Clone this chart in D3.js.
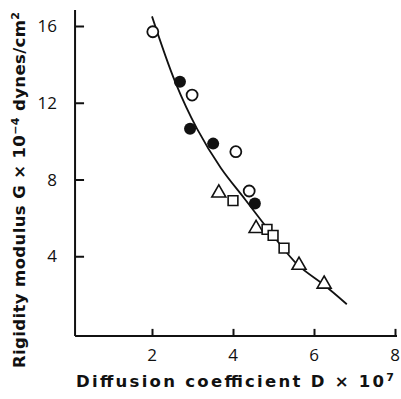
<!DOCTYPE html>
<html>
<head>
<meta charset="utf-8">
<script src="https://cdn.jsdelivr.net/npm/d3@7"></script>
<style>
  body { margin: 0; background: #fff; }
  text { font-family: "Open Sans", sans-serif; fill: #111; }
  .title { font-family: "DejaVu Sans", sans-serif; font-weight: bold; }
</style>
</head>
<body>
<svg id="chart" width="401" height="399"></svg>
<script>
// data
const openCircleD = [2.02, 2.99, 4.07, 4.40];
const openCircleG = [15.7, 12.4, 9.45, 7.4];
const filledCircleD = [2.69, 2.94, 3.51, 4.54];
const filledCircleG = [13.1, 10.65, 9.87, 6.75];
const triangleD = [3.65, 4.57, 5.63, 6.25];
const triangleG = [7.3, 5.45, 3.53, 2.55];
const squareD = [4.0, 4.84, 4.99, 5.26];
const squareG = [6.9, 5.4, 5.09, 4.42];
const curveD = [2.0, 2.57, 3.11, 3.7, 4.3, 5.0, 5.6, 6.25, 6.81];
const curveG = [16.5, 13.1, 10.65, 8.6, 6.96, 5.05, 3.55, 2.5, 1.5];
const xTicks = [2, 4, 6, 8];
const yTicks = [4, 8, 12, 16];

const svg = d3.select('#chart');

const x = d3.scaleLinear().domain([0, 8]).range([71, 395]);
const y = d3.scaleLinear().domain([0, 16]).range([333, 26]);

const zip = (a, b) => a.map((d, i) => ({ d: d, g: b[i] }));

// axes
const yAxis = svg.append('g')
    .attr('transform', `translate(${x(0.1)},0)`)
    .call(d3.axisRight(y).tickValues(yTicks).tickSize(9).tickFormat(''));
yAxis.select('.domain').attr('d', `M0,${y(-0.15)}V10`);
const xAxis = svg.append('g')
    .attr('transform', `translate(0,${y(-0.15)})`)
    .call(d3.axisTop(x).tickValues(xTicks).tickSize(7).tickFormat(''));
xAxis.select('.domain').attr('d', `M${x(0.1)},0H397`);
svg.selectAll('.domain, .tick line')
    .attr('stroke', '#111')
    .attr('stroke-width', 2);

// tick labels
svg.selectAll('.ylab').data(yTicks).join('text')
    .attr('x', 57)
    .attr('y', d => y(d) + 6)
    .attr('text-anchor', 'end')
    .attr('font-size', '17px')
    .text(d => d);
svg.selectAll('.xlab').data(xTicks).join('text')
    .attr('x', d => x(d))
    .attr('y', 361)
    .attr('text-anchor', 'middle')
    .attr('font-size', '17px')
    .text(d => d);

// axis titles
svg.append('text')
    .attr('class', 'title')
    .attr('x', 76)
    .attr('y', 387)
    .attr('textLength', 318)
    .attr('lengthAdjust', 'spacing')
    .attr('font-size', '16.5px')
    .html('Diffusion coefficient D &#215; 10<tspan dy="-6" font-size="11px">7</tspan>');
svg.append('text')
    .attr('class', 'title')
    .attr('transform', 'translate(25,368) rotate(-90)')
    .attr('textLength', 356)
    .attr('lengthAdjust', 'spacing')
    .attr('font-size', '16.5px')
    .html('Rigidity modulus G &#215; 10<tspan dy="-6" font-size="11px">&#8722;4</tspan><tspan dy="6"> dynes/cm</tspan><tspan dy="-6" font-size="11px">2</tspan>');

// fitted curve
const line = d3.line()
    .x(p => x(p.d))
    .y(p => y(p.g))
    .curve(d3.curveCatmullRom);
svg.append('path')
    .datum(zip(curveD, curveG))
    .attr('d', line)
    .attr('fill', 'none')
    .attr('stroke', '#111')
    .attr('stroke-width', 1.8);

// markers
svg.selectAll('.open').data(zip(openCircleD, openCircleG)).join('circle')
    .attr('cx', p => x(p.d)).attr('cy', p => y(p.g)).attr('r', 5.5)
    .attr('fill', '#fff').attr('stroke', '#111').attr('stroke-width', 1.8);
svg.selectAll('.filled').data(zip(filledCircleD, filledCircleG)).join('circle')
    .attr('cx', p => x(p.d)).attr('cy', p => y(p.g)).attr('r', 6)
    .attr('fill', '#111');
const tri = d3.symbol().type(d3.symbolTriangle).size(85);
svg.selectAll('.tri').data(zip(triangleD, triangleG)).join('path')
    .attr('transform', p => `translate(${x(p.d)},${y(p.g)})`)
    .attr('d', tri)
    .attr('fill', '#fff').attr('stroke', '#111').attr('stroke-width', 1.6);
const sq = d3.symbol().type(d3.symbolSquare).size(95);
svg.selectAll('.sq').data(zip(squareD, squareG)).join('path')
    .attr('transform', p => `translate(${x(p.d)},${y(p.g)})`)
    .attr('d', sq)
    .attr('fill', '#fff').attr('stroke', '#111').attr('stroke-width', 1.6);
</script>
</body>
</html>
